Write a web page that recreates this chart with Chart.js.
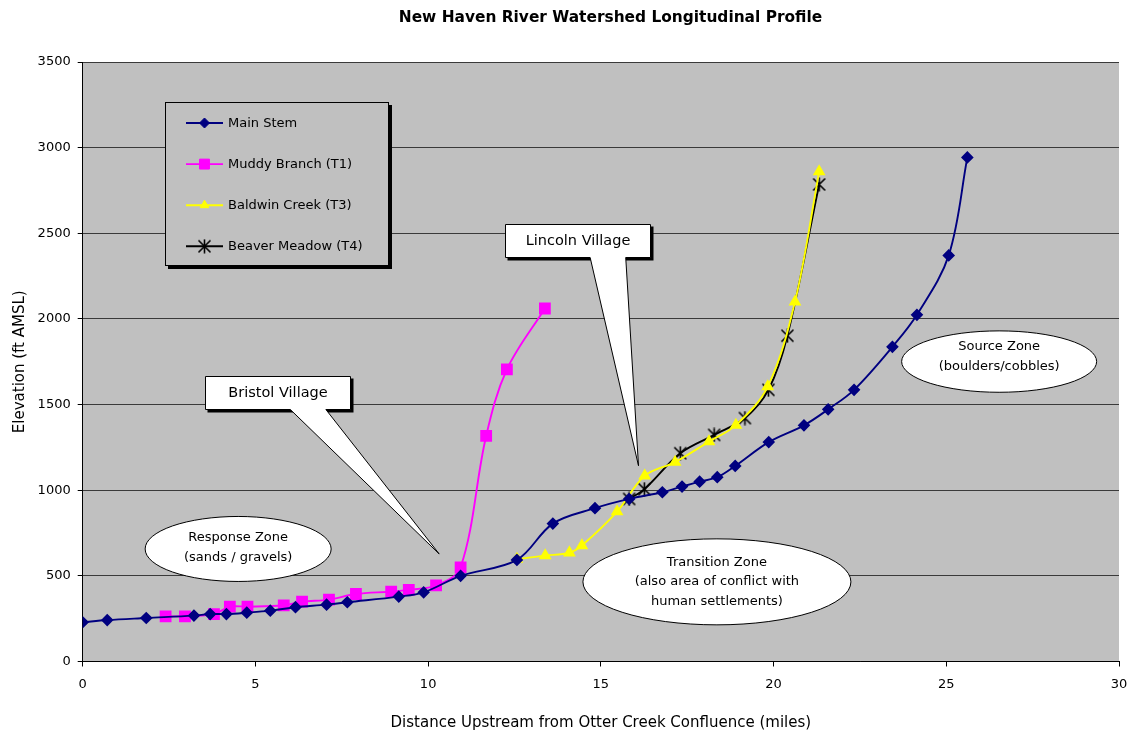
<!DOCTYPE html>
<html>
<head>
<meta charset="utf-8">
<title>New Haven River Watershed Longitudinal Profile</title>
<script src="https://cdn.jsdelivr.net/npm/chart.js@4.4.1/dist/chart.umd.min.js"></script>
<style>
  html, body { margin: 0; padding: 0; background: #ffffff; }
  #wrap { width: 1129px; height: 734px; }
</style>
</head>
<body>
<div id="wrap"><canvas id="profile" width="1129" height="734"></canvas></div>
<script>
// Distance upstream (miles) and elevation (ft AMSL) for each reach
const mainStemMiles = [0.0, 0.71, 1.84, 3.22, 3.69, 4.16, 4.75, 5.43, 6.16, 7.06, 7.66, 9.15, 9.87, 10.94,
  12.57, 13.61, 14.83, 15.82, 16.78, 17.35, 17.86, 18.37, 18.89, 19.86, 20.88, 21.58, 22.33, 23.44, 24.15, 25.07, 25.61];
const mainStemFt = [229, 242, 254, 268, 277, 277, 285, 297, 317, 332, 346, 379, 404, 500,
  593, 805, 895, 949, 988, 1021, 1050, 1076, 1142, 1281, 1379, 1472, 1586, 1837, 2024, 2371, 2943];

const muddyMiles = [2.40, 2.96, 3.80, 4.26, 4.77, 5.82, 6.35, 7.13, 7.91, 8.93, 9.44, 10.23, 10.94, 11.68, 12.28, 13.38];
const muddyFt = [264, 264, 277, 320, 320, 328, 349, 361, 394, 408, 418, 444, 550, 1317, 1705, 2061];

const baldwinMiles = [12.57, 13.39, 14.09, 14.45, 15.47, 16.27, 17.15, 18.13, 18.91, 19.83, 20.62, 21.32];
const baldwinFt = [598, 618, 635, 677, 875, 1084, 1164, 1284, 1380, 1605, 2100, 2860];

const beaverMiles = [15.82, 16.26, 17.30, 18.28, 19.17, 19.85, 20.40, 21.32];
const beaverFt = [949, 1006, 1216, 1323, 1421, 1586, 1902, 2785];

const xTicks = [0, 5, 10, 15, 20, 25, 30];
const yTicks = [0, 500, 1000, 1500, 2000, 2500, 3000, 3500];

const seriesNames = ['Main Stem', 'Muddy Branch (T1)', 'Baldwin Creek (T3)', 'Beaver Meadow (T4)'];

const toPoints = (xs, ys) => xs.map((x, i) => ({ x: x, y: ys[i] }));

// Asterisk marker (X with a vertical bar)
function makeStar(size, color) {
  const c = document.createElement('canvas');
  c.width = size; c.height = size;
  const g = c.getContext('2d');
  g.strokeStyle = color; g.lineWidth = 1.6;
  const m = 1.5, s = size - 1.5, h = size / 2;
  g.beginPath();
  g.moveTo(m, m); g.lineTo(s, s);
  g.moveTo(s, m); g.lineTo(m, s);
  g.moveTo(h, 0.5); g.lineTo(h, size - 0.5);
  g.stroke();
  return c;
}
const starMarker = makeStar(15, '#000000');

const FONT = "'DejaVu Sans', Verdana, sans-serif";

// Callouts, zone ellipses and the boxed legend
const callouts = [
  { text: 'Lincoln Village', x1: 12.23, x2: 16.42, yTop: 2554, yBot: 2361, b1: 14.69, b2: 15.72, tipX: 16.09, tipY: 1143 },
  { text: 'Bristol Village', x1: 3.54, x2: 7.74, yTop: 1664, yBot: 1475, b1: 6.01, b2: 7.04, tipX: 10.32, tipY: 628 }
];
const zones = [
  { lines: ['Response Zone', '(sands / gravels)'], cx: 4.50, cy: 657, rx: 93, ry: 32.5, dy: -1 },
  { lines: ['Transition Zone', '(also area of conflict with', 'human settlements)'], cx: 18.36, cy: 465, rx: 134, ry: 43, dy: 0 },
  { lines: ['Source Zone', '(boulders/cobbles)'], cx: 26.53, cy: 1751, rx: 97.5, ry: 30.7, dy: -5 }
];

const decor = {
  id: 'decor',
  beforeDraw(chart) {
    const { ctx, chartArea: a } = chart;
    ctx.save();
    ctx.fillStyle = '#ffffff';
    ctx.fillRect(0, 0, chart.width, chart.height);
    ctx.fillStyle = '#c0c0c0';
    ctx.fillRect(a.left, a.top, a.right - a.left, a.bottom - a.top);
    ctx.restore();
  },
  afterDatasetsDraw(chart) {
    const { ctx, chartArea: a } = chart;
    const xs = chart.scales.x, ys = chart.scales.y;
    ctx.save();

    // zone ellipses
    zones.forEach(z => {
      const cx = xs.getPixelForValue(z.cx), cy = ys.getPixelForValue(z.cy);
      ctx.beginPath();
      ctx.ellipse(cx, cy, z.rx, z.ry, 0, 0, Math.PI * 2);
      ctx.fillStyle = '#ffffff';
      ctx.fill();
      ctx.lineWidth = 1;
      ctx.strokeStyle = '#000000';
      ctx.stroke();
      ctx.fillStyle = '#000000';
      ctx.font = '13px ' + FONT;
      ctx.textAlign = 'center';
      ctx.textBaseline = 'middle';
      const lh = 19.7;
      const y0 = cy + z.dy - (z.lines.length - 1) * lh / 2;
      z.lines.forEach((t, i) => ctx.fillText(t, cx, y0 + i * lh));
    });

    // callout boxes with pointers
    callouts.forEach(c => {
      const l = Math.round(xs.getPixelForValue(c.x1)) + 0.5, r = Math.round(xs.getPixelForValue(c.x2)) + 0.5;
      const t = Math.round(ys.getPixelForValue(c.yTop)) + 0.5, b = Math.round(ys.getPixelForValue(c.yBot)) + 0.5;
      const b1 = xs.getPixelForValue(c.b1), b2 = xs.getPixelForValue(c.b2);
      const tx = xs.getPixelForValue(c.tipX), ty = ys.getPixelForValue(c.tipY);
      ctx.fillStyle = '#000000';
      ctx.fillRect(l + 2, t + 2, r - l + 1, b - t + 1);
      ctx.beginPath();
      ctx.moveTo(l, t);
      ctx.lineTo(r, t);
      ctx.lineTo(r, b);
      ctx.lineTo(b2, b);
      ctx.lineTo(tx, ty);
      ctx.lineTo(b1, b);
      ctx.lineTo(l, b);
      ctx.closePath();
      ctx.fillStyle = '#ffffff';
      ctx.fill();
      ctx.lineWidth = 1;
      ctx.strokeStyle = '#000000';
      ctx.stroke();
      ctx.fillStyle = '#000000';
      ctx.font = '14.5px ' + FONT;
      ctx.textAlign = 'center';
      ctx.textBaseline = 'middle';
      ctx.fillText(c.text, (l + r) / 2, (t + b) / 2 + 0.5);
    });

    // legend box
    const lx = Math.round(a.left) + 82, ly = Math.round(a.top) + 40, lw = 224, lh = 164;
    ctx.fillStyle = '#000000';
    ctx.fillRect(lx + 3, ly + 3, lw, lh);
    ctx.fillStyle = '#c0c0c0';
    ctx.fillRect(lx, ly, lw, lh);
    ctx.lineWidth = 1;
    ctx.strokeStyle = '#000000';
    ctx.strokeRect(lx + 0.5, ly + 0.5, lw - 1, lh - 1);
    ctx.font = '13px ' + FONT;
    ctx.textAlign = 'left';
    ctx.textBaseline = 'middle';
    chart.data.datasets.forEach((ds, i) => {
      const y = ly + 21 + i * 41.1;
      ctx.beginPath();
      ctx.moveTo(lx + 21, y);
      ctx.lineTo(lx + 58, y);
      ctx.strokeStyle = ds.borderColor;
      ctx.lineWidth = ds.borderWidth;
      ctx.stroke();
      ctx.fillStyle = ds.pointBackgroundColor;
      ctx.strokeStyle = ds.pointBorderColor;
      ctx.lineWidth = 1;
      Chart.helpers.drawPoint(ctx, {
        pointStyle: ds.pointStyle, radius: ds.legendRadius, rotation: 0, borderWidth: 1
      }, lx + 39.5, y);
      ctx.fillStyle = '#000000';
      ctx.fillText(ds.label, lx + 63, y + 0.5);
    });
    ctx.restore();
  },
  afterDraw(chart) {
    const { ctx } = chart;
    ctx.save();
    ctx.fillStyle = '#000000';
    ctx.font = 'bold 15.4px ' + FONT;
    ctx.textAlign = 'center';
    ctx.textBaseline = 'middle';
    ctx.fillText('New Haven River Watershed Longitudinal Profile', 610.5, 17.5);
    ctx.restore();
  }
};

Chart.defaults.font.family = FONT;
Chart.defaults.color = '#000000';

const chart = new Chart(document.getElementById('profile'), {
  type: 'line',
  data: {
    datasets: [
      {
        label: seriesNames[0], data: toPoints(mainStemMiles, mainStemFt),
        borderColor: '#000080', backgroundColor: '#000080', borderWidth: 1.9,
        pointStyle: 'rectRot', pointRadius: 5, legendRadius: 5, pointBorderColor: '#000080', pointBackgroundColor: '#000080',
        tension: 0.35, fill: false
      },
      {
        label: seriesNames[1], data: toPoints(muddyMiles, muddyFt),
        borderColor: '#ff00ff', backgroundColor: '#ff00ff', borderWidth: 1.9,
        pointStyle: 'rect', pointRadius: 7, legendRadius: 7, pointBorderColor: '#ff00ff', pointBackgroundColor: '#ff00ff',
        tension: 0.35, fill: false
      },
      {
        label: seriesNames[2], data: toPoints(baldwinMiles, baldwinFt),
        borderColor: '#ffff00', backgroundColor: '#ffff00', borderWidth: 1.9,
        pointStyle: 'triangle', pointRadius: 5.5, legendRadius: 5, pointBorderColor: '#ffff00', pointBackgroundColor: '#ffff00',
        tension: 0.35, fill: false
      },
      {
        label: seriesNames[3], data: toPoints(beaverMiles, beaverFt),
        borderColor: '#000000', backgroundColor: '#000000', borderWidth: 1.9,
        pointStyle: starMarker, pointRadius: 7, legendRadius: 7, pointBorderColor: '#000000', pointBackgroundColor: '#000000',
        tension: 0.35, fill: false
      }
    ]
  },
  options: {
    responsive: false,
    animation: false,
    devicePixelRatio: 1,
    layout: { padding: { left: 0, right: 10, top: 62, bottom: 0 } },
    plugins: { legend: { display: false }, title: { display: false }, tooltip: { enabled: false } },
    scales: {
      x: {
        type: 'linear', min: 0, max: 30,
        afterBuildTicks: s => { s.ticks = xTicks.map(v => ({ value: v })); },
        afterFit: s => { s.height = 72.5; s.paddingLeft = 0; s.paddingRight = 0; },
        grid: { drawOnChartArea: false, drawTicks: true, tickLength: 5, color: '#000000', tickColor: '#000000' },
        border: { color: '#000000', width: 1 },
        ticks: { padding: 10, font: { size: 13 }, maxRotation: 0, callback: v => String(v) },
        title: { display: true, text: 'Distance Upstream from Otter Creek Confluence (miles)', font: { size: 15 }, padding: { top: 12, bottom: 2 } }
      },
      y: {
        type: 'linear', min: 0, max: 3500,
        afterBuildTicks: s => { s.ticks = yTicks.map(v => ({ value: v })); },
        afterFit: s => { s.width = 82.7; s.paddingTop = 0; s.paddingBottom = 0; },
        grid: { drawTicks: true, tickLength: 5, color: '#3a3a3a', tickColor: '#000000' },
        border: { color: '#000000', width: 1 },
        ticks: { padding: 7, font: { size: 13 }, callback: v => String(v) },
        title: { display: true, text: 'Elevation (ft AMSL)', font: { size: 15 }, padding: { top: 11, bottom: 0 } }
      }
    }
  },
  plugins: [decor]
});
</script>
</body>
</html>
